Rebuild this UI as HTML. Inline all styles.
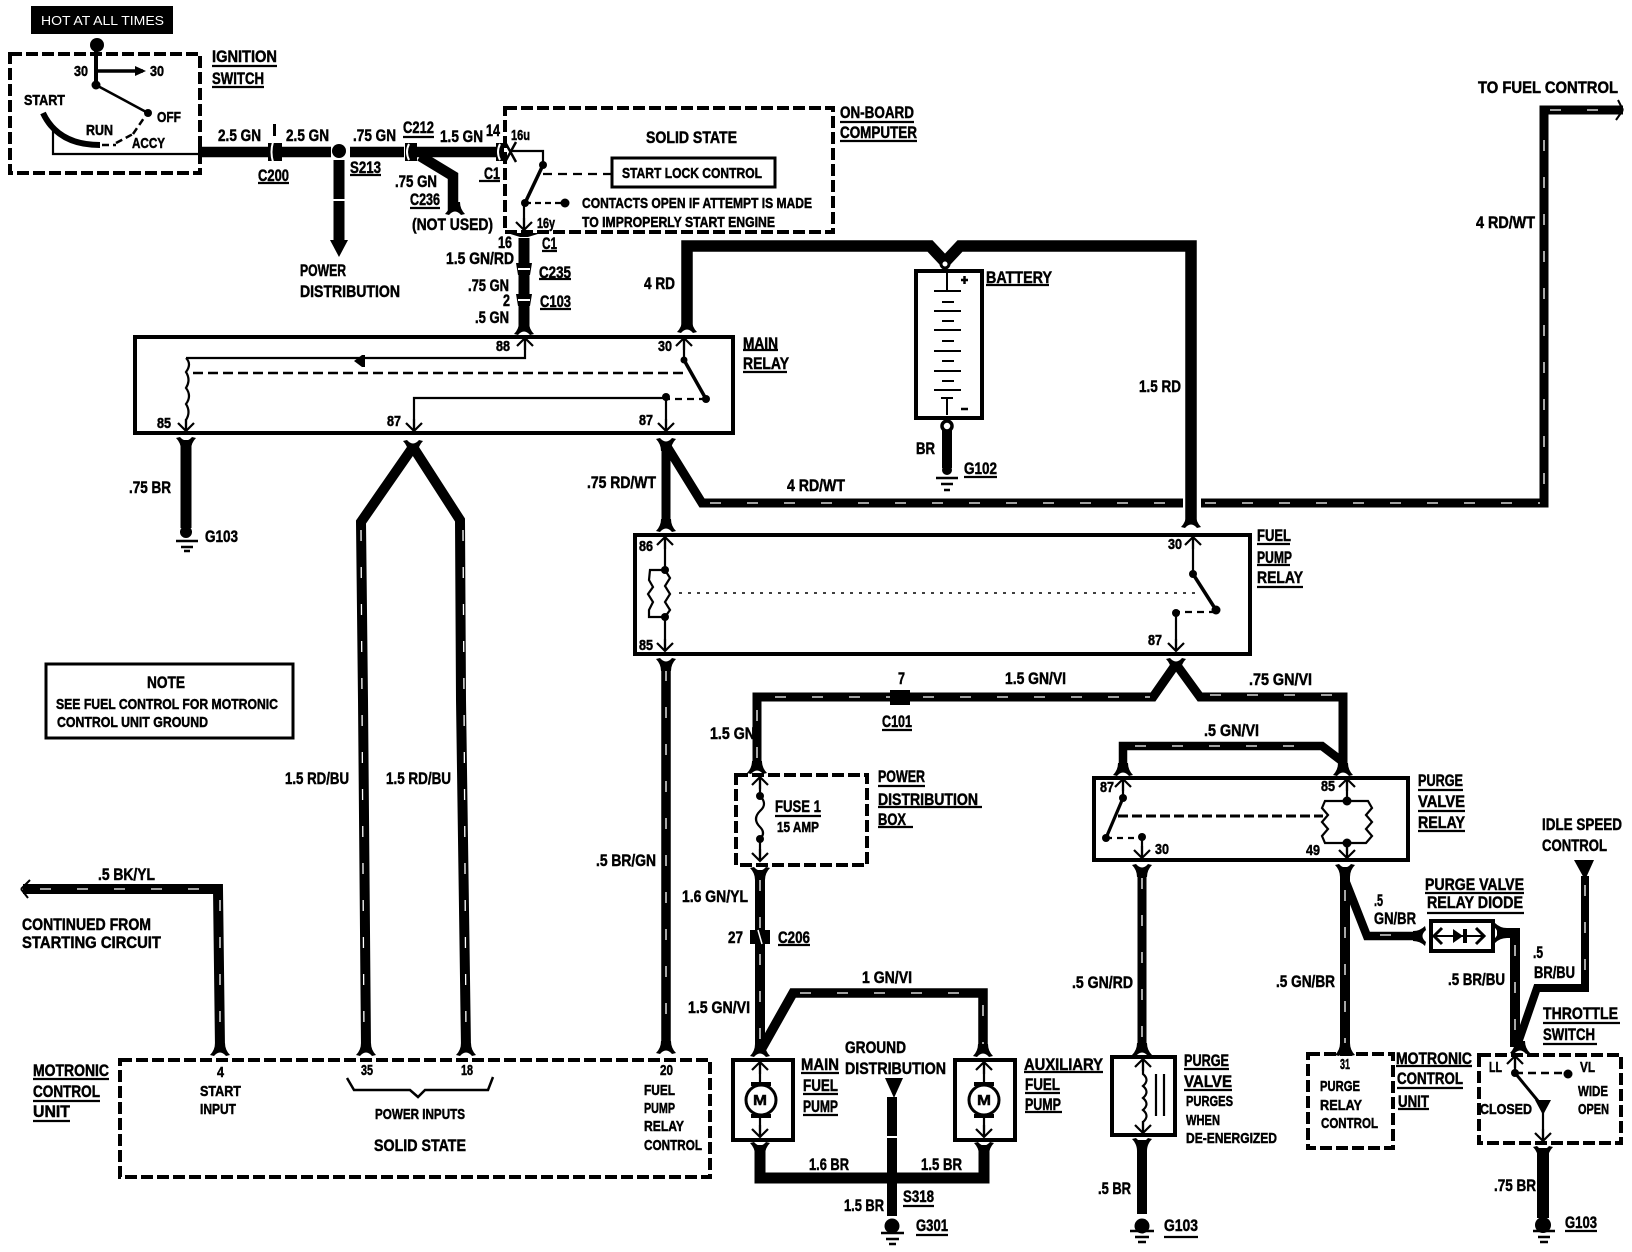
<!DOCTYPE html>
<html><head><meta charset="utf-8"><title>Fuel pump wiring diagram</title>
<style>
html,body{margin:0;padding:0;background:#fff}
svg{display:block}
text{font:bold 17px "Liberation Sans",sans-serif;fill:#000;stroke:#000;stroke-width:.5}
.s{font-size:15px}
.w{fill:#fff;stroke:none;font-weight:normal;font-size:13px}
.t{stroke:#000;fill:none;stroke-linejoin:miter}
.sl{stroke:#fff;fill:none;stroke-width:1.3;stroke-dasharray:11 26}
</style></head><body>
<svg width="1632" height="1252" viewBox="0 0 1632 1252" xmlns="http://www.w3.org/2000/svg">
<defs>
<path id="fu" d="M-10 1Q-5 -4 -5 -11L5 -11Q5 -4 10 1L6 2Q0 -5 -6 2Z"/>
<path id="pu" d="M-8 8L0 0L8 8M0 0V12" fill="none" stroke="#000" stroke-width="2.2"/>
</defs>
<rect width="1632" height="1252" fill="#fff"/>

<!-- Boxes solid -->
<g fill="none" stroke="#000" stroke-width="4">
<rect x="135" y="337" width="598" height="96"/>
<rect x="635" y="535" width="615" height="119"/>
<rect x="1094" y="778" width="314" height="82"/>
<rect x="916" y="271" width="66" height="147"/>
<rect x="733" y="1060" width="60" height="80"/>
<rect x="955" y="1060" width="60" height="80"/>
<rect x="1112" y="1057" width="63" height="78"/>
<rect x="1431" y="921" width="62" height="30"/>
<rect x="612" y="158" width="163" height="29" stroke-width="3"/>
<rect x="46" y="664" width="247" height="74" stroke-width="3"/>
</g>
<!-- Boxes dashed -->
<g fill="none" stroke="#000" stroke-width="4" stroke-dasharray="12 4">
<rect x="10" y="54" width="190" height="119"/>
<rect x="505" y="108" width="328" height="124"/>
<rect x="736" y="775" width="131" height="90"/>
<rect x="120" y="1060" width="590" height="117"/>
<rect x="1308" y="1054" width="85" height="94"/>
<rect x="1479" y="1055" width="142" height="88"/>
</g>
<rect x="31" y="6" width="142" height="28" fill="#000"/>

<!-- Thick wires -->
<g class="t">
<path d="M198 152H331M350 152H404M415 152H498" stroke-width="10.5"/>
<path d="M420 156L453 176V210" stroke-width="10.5"/>
<path d="M339 160V240" stroke-width="11"/>
<path d="M524 238V330" stroke-width="11"/>
<path d="M687 328V246H930L945 262L960 246H1191V523" stroke-width="11.5"/>
<path d="M186 440V528" stroke-width="11"/>
<path d="M947 430V468" stroke-width="10"/>
<path d="M413 447L361 522L363 700L366 1048" stroke-width="10"/>
<path d="M413 447L460 520L461 700L466 1048" stroke-width="10"/>
<path d="M666 446V527" stroke-width="9"/>
<path d="M668 448L702 503H1183M1201 503H1544V110H1623" stroke-width="9"/>
<path d="M666 662V1045" stroke-width="9.5"/>
<path d="M23 889H218L220 1048" stroke-width="10"/>
<path d="M1176 664L1153 697H757V763" stroke-width="9"/>
<path d="M1176 664L1200 697H1343V767" stroke-width="9"/>
<path d="M1123 767V746H1322L1343 762" stroke-width="8.5"/>
<path d="M760 870V1051" stroke-width="10"/>
<path d="M762 1048L793 993H983V1049" stroke-width="9.5"/>
<path d="M760 1145V1178H984V1145" stroke-width="11"/>
<path d="M892 1097V1216" stroke-width="10"/>
<path d="M1142 868V1051" stroke-width="9"/>
<path d="M1142 1140V1214" stroke-width="10"/>
<path d="M1345 867V1050" stroke-width="10"/>
<path d="M1345 880L1367 936H1422" stroke-width="8.5"/>
<path d="M1497 933H1515V1047" stroke-width="10"/>
<path d="M1585 876V988H1537L1518 1043" stroke-width="8"/>
<path d="M1543 1148V1218" stroke-width="12"/>
</g>
<!-- white twist slits -->
<g class="sl">
<path d="M361 530L364 1040M463 530L466 1040M666 670V1040M220 900V1040M1544 140V490M757 710V760M760 880V1045M1142 878V1045M1345 890V1045M1515 945V1040M1585 885V980M983 1005V1045"/>
<path d="M40 889H210M710 503H1180M1205 503H1540M775 697H1150M1210 695H1335M1135 746H1315M800 993H975M1380 935H1415M1550 110H1615"/>
</g>
<path d="M339 199V201" stroke="#fff" stroke-width="11"/>

<!-- arrowheads, dots -->
<g>
<path d="M330 240H348L339 257Z"/>
<path d="M885 1078H903L894 1098Z"/>
<path d="M1574 860H1594L1585 880Z"/>
<path d="M135 66L146 71L135 76Z"/>
<path d="M516 263H532L530 275H518ZM516 294H532L530 306H518Z"/>
<path d="M518 269H530M518 300H530" stroke="#fff" stroke-width="2"/>
<path d="M886 1137H898" stroke="#fff" stroke-width="2"/>
<use href="#fu" x="455" y="213"/>
<use href="#fu" x="524" y="333"/>
<use href="#fu" x="687" y="331"/>
<use href="#fu" x="666" y="530"/>
<use href="#fu" x="1191" y="526"/>
<use href="#fu" x="220" y="1054"/>
<use href="#fu" x="366" y="1054"/>
<use href="#fu" x="466" y="1054"/>
<use href="#fu" x="666" y="1052"/>
<use href="#fu" x="757" y="772"/>
<use href="#fu" x="1123" y="774"/>
<use href="#fu" x="1343" y="774"/>
<use href="#fu" x="760" y="1055"/>
<use href="#fu" x="983" y="1055"/>
<use href="#fu" x="1142" y="1054"/>
<use href="#fu" x="1345" y="1054"/>
<use href="#fu" x="1520" y="1052"/>
<use href="#fu" transform="rotate(180 186 439)" x="186" y="439"/>
<use href="#fu" transform="rotate(180 413 442)" x="413" y="442"/>
<use href="#fu" transform="rotate(180 666 440)" x="666" y="440"/>
<use href="#fu" transform="rotate(180 666 660)" x="666" y="660"/>
<use href="#fu" transform="rotate(180 1176 660)" x="1176" y="660"/>
<use href="#fu" transform="rotate(180 760 869)" x="760" y="869"/>
<use href="#fu" transform="rotate(180 1142 866)" x="1142" y="866"/>
<use href="#fu" transform="rotate(180 1345 866)" x="1345" y="866"/>
<use href="#fu" transform="rotate(180 760 1144)" x="760" y="1144"/>
<use href="#fu" transform="rotate(180 984 1144)" x="984" y="1144"/>
<use href="#fu" transform="rotate(180 1142 1140)" x="1142" y="1140"/>
<use href="#fu" transform="rotate(180 1543 1148)" x="1543" y="1148"/>
<use href="#fu" transform="rotate(-90 1424 936)" x="1424" y="936"/>
<use href="#fu" transform="rotate(90 1496 933)" x="1496" y="933"/>
<circle cx="97" cy="45" r="7"/><circle cx="96" cy="85" r="4.5"/><circle cx="148" cy="113" r="4"/>
<circle cx="339" cy="151" r="7"/><circle cx="186" cy="532" r="6"/><circle cx="947" cy="470" r="5"/>
<circle cx="892" cy="1226" r="7.5"/><circle cx="1142" cy="1226" r="7.5"/><circle cx="1543" cy="1225" r="8"/>
<circle cx="543" cy="165" r="4"/><circle cx="525" cy="203" r="4"/><circle cx="565" cy="203" r="4.5"/>
<circle cx="684" cy="360" r="3.5"/><circle cx="706" cy="399" r="4"/><circle cx="666" cy="397" r="4"/>
<circle cx="665" cy="570" r="4"/><circle cx="665" cy="617" r="4"/><circle cx="1193" cy="574" r="4"/><circle cx="1216" cy="610" r="4.5"/><circle cx="1176" cy="613" r="4"/>
<circle cx="760" cy="796" r="4"/><circle cx="760" cy="839" r="4"/>
<circle cx="1123" cy="798" r="4"/><circle cx="1106" cy="838" r="4"/><circle cx="1142" cy="837" r="4"/><circle cx="1347" cy="801" r="4.5"/><circle cx="1347" cy="843" r="4.5"/>
<circle cx="1515" cy="1073" r="4"/><circle cx="1568" cy="1074" r="4.5"/>
<path d="M1535 1100H1551L1543 1115Z"/>
</g>

<!-- Connectors -->
<g>
<path d="M268 143H282V161H268Z"/><path d="M273 142Q270 152 273 162" stroke="#fff" stroke-width="2" fill="none"/>
<rect x="273" y="124" width="3" height="12"/>
<path d="M405 143H417V161H405Z"/><path d="M409 144Q405 152 409 160" stroke="#fff" stroke-width="2" fill="none"/>
<path d="M496 143H504V161H496Z"/><path d="M500 144Q496 152 500 160" stroke="#fff" stroke-width="2" fill="none"/>
<path d="M505 142L516 162M516 142L505 162" stroke="#000" stroke-width="2.5"/>
<path d="M520 237L507 233H541L528 237Z"/>
<path d="M890 690H910V705H890Z"/>
<path d="M750 930H770V944H750Z"/>
<path d="M758 930L762 944" stroke="#fff" stroke-width="1.5"/>
<circle cx="945" cy="264" r="4" fill="#fff" stroke="#000" stroke-width="3"/>
<circle cx="947" cy="426" r="5" fill="#fff" stroke="#000" stroke-width="3.5"/>
</g>

<!-- Thin circuit lines -->
<g fill="none" stroke="#000" stroke-width="2.2">
<path d="M96 45V85" stroke-width="4"/>
<path d="M96 71H143" stroke-width="3.5"/>
<path d="M96 85L148 113" stroke-width="2.5"/>
<path d="M43 113Q58 145 100 145" stroke-width="6"/>
<path d="M102 145H116M116 143L133 134M133 134L146 115" stroke-dasharray="7 4" stroke-width="2.5"/>
<path d="M53 130V154H198"/>
<path d="M510 151H543V165"/>
<path d="M543 165L525 203" stroke-width="3.5"/>
<path d="M525 203H565" stroke-dasharray="6 4"/>
<path d="M543 174H611" stroke-dasharray="9 6"/>
<path d="M524 203V228"/>
<path d="M525 338V358H186"/>
<path d="M186 358Q192 364 186 372Q191 380 186 388Q192 396 186 404Q191 412 186 420V431"/>
<path d="M193 373H685" stroke-dasharray="10 5" stroke-width="2.6"/>
<path d="M684 338V360"/>
<path d="M684 360L706 399" stroke-width="3.5"/>
<path d="M706 399H668" stroke-dasharray="7 5"/>
<path d="M666 397V430"/>
<path d="M666 398H414V430"/>
<path d="M665 537V570M665 617V650"/>
<path d="M665 570H650L649 580L653 587L648 594L653 602L649 610V617H665"/>
<path d="M665 570L670 578L665 586L670 594L665 602L670 610L665 617"/>
<path d="M679 593H1201" stroke-dasharray="3 6" stroke-width="1.5"/>
<path d="M1193 537V574"/>
<path d="M1193 574L1216 610" stroke-width="3.5"/>
<path d="M1216 612H1178" stroke-dasharray="7 5"/>
<path d="M1176 613V650"/>
<path d="M760 776V796M760 839V860"/>
<path d="M760 796Q768 804 760 811Q752 819 760 827Q766 833 760 839"/>
<path d="M1123 778V798"/>
<path d="M1123 798L1106 838" stroke-width="3.2"/>
<path d="M1106 838H1142" stroke-dasharray="6 5"/>
<path d="M1142 837V858"/>
<path d="M1118 816H1323" stroke-dasharray="10 4" stroke-width="3"/>
<path d="M1347 778V801M1347 843V858"/>
<path d="M1325 801H1368L1372 808L1366 815L1372 822L1366 829L1372 836L1366 843H1325L1322 836L1328 829L1322 822L1328 815L1322 808Z"/>
<path d="M1515 1055V1073"/>
<path d="M1515 1073H1568" stroke-dasharray="8 5" stroke-width="2.6"/>
<path d="M1515 1073L1543 1107" stroke-width="3"/>
<path d="M1543 1107V1140"/>
<path d="M760 1061V1085M760 1115V1137M984 1061V1085M984 1115V1137"/>
<circle cx="761" cy="1100" r="15" stroke-width="3"/><circle cx="984" cy="1100" r="15" stroke-width="3"/>
<path d="M1143 1058V1074Q1150 1080 1143 1086Q1150 1092 1143 1098Q1150 1104 1143 1110Q1150 1116 1143 1122V1132"/>
<path d="M1156 1074V1116M1164 1074V1116"/>
<path d="M1436 936H1484" stroke-width="2"/>
<path d="M347 1078L354 1090H410L418 1097L425 1090H488L493 1077" stroke-width="2.5"/>
<!-- battery plates -->
<path d="M947 270V291M934 291H961M942 302H954M934 311H961M942 321H954M934 330H961M942 341H954M934 351H961M942 361H954M934 371H961M942 381H954M934 390H961M941 398H953M947 398V415" stroke-width="2"/>
<path d="M961 280H968M964.500 276V284M961 409H968" stroke-width="2.500"/>
</g>
<use href="#pu" x="525" y="338"/><use href="#pu" x="684" y="338"/>
<use href="#pu" x="665" y="537"/><use href="#pu" x="1193" y="537"/>
<use href="#pu" x="760" y="777"/><use href="#pu" x="1123" y="779"/><use href="#pu" x="1347" y="779"/>
<use href="#pu" x="1515" y="1056"/><use href="#pu" x="760" y="1062"/><use href="#pu" x="984" y="1062"/><use href="#pu" x="1143" y="1059"/>
<g>
<use href="#pu" transform="rotate(180 186 431)" x="186" y="431"/>
<use href="#pu" transform="rotate(180 414 431)" x="414" y="431"/>
<use href="#pu" transform="rotate(180 666 431)" x="666" y="431"/>
<use href="#pu" transform="rotate(180 665 651)" x="665" y="651"/>
<use href="#pu" transform="rotate(180 1176 651)" x="1176" y="651"/>
<use href="#pu" transform="rotate(180 760 861)" x="760" y="861"/>
<use href="#pu" transform="rotate(180 1142 858)" x="1142" y="858"/>
<use href="#pu" transform="rotate(180 1347 858)" x="1347" y="858"/>
<use href="#pu" transform="rotate(180 1543 1141)" x="1543" y="1141"/>
<use href="#pu" transform="rotate(180 760 1137)" x="760" y="1137"/>
<use href="#pu" transform="rotate(180 984 1137)" x="984" y="1137"/>
<use href="#pu" transform="rotate(180 1143 1133)" x="1143" y="1133"/>
<use href="#pu" transform="rotate(180 524 230)" x="524" y="230"/>
</g>
<!-- motors, diode, misc -->
<g>
<rect x="751" y="1082" width="20" height="4"/><rect x="751" y="1114" width="20" height="4"/>
<rect x="974" y="1082" width="20" height="4"/><rect x="974" y="1114" width="20" height="4"/>
<path d="M354 361L362 355V367ZM362 355H365V367H362Z"/>
<path d="M1453 929L1463 936L1453 943ZM1463 929H1467V943H1463Z"/>
<path d="M1442 928L1434 936L1442 944M1476 928L1484 936L1476 944" fill="none" stroke="#000" stroke-width="3"/>
<path d="M21 889L30 880M21 889L28 898M1623 110L1618 100M1623 110L1616 120" fill="none" stroke="#000" stroke-width="2"/>
<path d="M176 541H198M181 547H193M184 551H190M936 478H958M941 484H953M944 490H950M881 1233H904M886 1239H899M889 1244H896M1130 1231H1154M1135 1237H1149M1138 1242H1146M1533 1231H1555M1538 1237H1550M1540 1242H1548" stroke="#000" stroke-width="2.4" fill="none"/>
<!-- underlines -->
<path fill="none" stroke="#000" stroke-width="2.2" d="M212 66H277M212 87H264M258 183H289M350 175H381M403 137H434M410 208H440M479 181H500M840 122H914M840 141H917M542 251H557M539 279H571M540 309H571M743 350H778M743 372H787M986 285H1049M964 477H997M1257 544H1290M1257 565H1290M1257 587H1303M882 730H912M878 786H925M878 807H982M878 827H913M775 816H821M778 945H810M801 1073H839M803 1094H838M803 1115H838M1024 1072H1103M1025 1093H1060M1025 1112H1062M1184 1069H1229M1184 1090H1232M903 1206H934M916 1235H948M1164 1237H1198M1418 790H1463M1418 811H1465M1418 831H1465M1425 893H1524M1427 913H1524M1543 1023H1620M1543 1044H1597M1396 1066H1472M1397 1088H1463M1398 1109H1429M1565 1231H1597M33 1079H109M33 1101H100M33 1121H70"/>
</g>

<!-- Text -->
<g>
<text class="w" x="41" y="25" textLength="123" lengthAdjust="spacingAndGlyphs">HOT AT ALL TIMES</text>
<text x="212" y="62" textLength="65" lengthAdjust="spacingAndGlyphs">IGNITION</text>
<text x="212" y="84" textLength="52" lengthAdjust="spacingAndGlyphs">SWITCH</text>
<text class="s" x="74" y="76" textLength="14" lengthAdjust="spacingAndGlyphs">30</text>
<text class="s" x="150" y="76" textLength="14" lengthAdjust="spacingAndGlyphs">30</text>
<text class="s" x="24" y="105" textLength="41" lengthAdjust="spacingAndGlyphs">START</text>
<text class="s" x="157" y="122" textLength="24" lengthAdjust="spacingAndGlyphs">OFF</text>
<text class="s" x="86" y="135" textLength="27" lengthAdjust="spacingAndGlyphs">RUN</text>
<text class="s" x="132" y="148" textLength="33" lengthAdjust="spacingAndGlyphs">ACCY</text>
<text x="218" y="141" textLength="43" lengthAdjust="spacingAndGlyphs">2.5 GN</text>
<text x="286" y="141" textLength="43" lengthAdjust="spacingAndGlyphs">2.5 GN</text>
<text x="353" y="141" textLength="43" lengthAdjust="spacingAndGlyphs">.75 GN</text>
<text x="403" y="133" textLength="31" lengthAdjust="spacingAndGlyphs">C212</text>
<text x="440" y="142" textLength="43" lengthAdjust="spacingAndGlyphs">1.5 GN</text>
<text x="486" y="136" textLength="14" lengthAdjust="spacingAndGlyphs">14</text>
<text class="s" x="511" y="140" textLength="19" lengthAdjust="spacingAndGlyphs">16u</text>
<text x="258" y="181" textLength="31" lengthAdjust="spacingAndGlyphs">C200</text>
<text x="350" y="173" textLength="31" lengthAdjust="spacingAndGlyphs">S213</text>
<text x="395" y="187" textLength="42" lengthAdjust="spacingAndGlyphs">.75 GN</text>
<text x="410" y="205" textLength="30" lengthAdjust="spacingAndGlyphs">C236</text>
<text x="412" y="230" textLength="81" lengthAdjust="spacingAndGlyphs">(NOT USED)</text>
<text x="484" y="179" textLength="16" lengthAdjust="spacingAndGlyphs">C1</text>
<text x="300" y="276" textLength="46" lengthAdjust="spacingAndGlyphs">POWER</text>
<text x="300" y="297" textLength="100" lengthAdjust="spacingAndGlyphs">DISTRIBUTION</text>
<text x="646" y="143" textLength="91" lengthAdjust="spacingAndGlyphs">SOLID STATE</text>
<text class="s" x="622" y="178" textLength="140" lengthAdjust="spacingAndGlyphs">START LOCK CONTROL</text>
<text class="s" x="582" y="208" textLength="230" lengthAdjust="spacingAndGlyphs">CONTACTS OPEN IF ATTEMPT IS MADE</text>
<text class="s" x="582" y="227" textLength="193" lengthAdjust="spacingAndGlyphs">TO IMPROPERLY START ENGINE</text>
<text x="840" y="118" textLength="74" lengthAdjust="spacingAndGlyphs">ON-BOARD</text>
<text x="840" y="138" textLength="77" lengthAdjust="spacingAndGlyphs">COMPUTER</text>
<text class="s" x="537" y="228" textLength="18" lengthAdjust="spacingAndGlyphs">16y</text>
<text x="498" y="248" textLength="14" lengthAdjust="spacingAndGlyphs">16</text>
<text x="542" y="249" textLength="15" lengthAdjust="spacingAndGlyphs">C1</text>
<text x="446" y="264" textLength="68" lengthAdjust="spacingAndGlyphs">1.5 GN/RD</text>
<text x="539" y="278" textLength="32" lengthAdjust="spacingAndGlyphs">C235</text>
<text x="468" y="291" textLength="41" lengthAdjust="spacingAndGlyphs">.75 GN</text>
<text x="503" y="306" textLength="7" lengthAdjust="spacingAndGlyphs">2</text>
<text x="540" y="307" textLength="31" lengthAdjust="spacingAndGlyphs">C103</text>
<text x="475" y="323" textLength="34" lengthAdjust="spacingAndGlyphs">.5 GN</text>
<text x="644" y="289" textLength="31" lengthAdjust="spacingAndGlyphs">4 RD</text>
<text class="s" x="496" y="351" textLength="14" lengthAdjust="spacingAndGlyphs">88</text>
<text class="s" x="658" y="351" textLength="14" lengthAdjust="spacingAndGlyphs">30</text>
<text class="s" x="157" y="428" textLength="14" lengthAdjust="spacingAndGlyphs">85</text>
<text class="s" x="387" y="426" textLength="14" lengthAdjust="spacingAndGlyphs">87</text>
<text class="s" x="639" y="425" textLength="14" lengthAdjust="spacingAndGlyphs">87</text>
<text x="743" y="349" textLength="35" lengthAdjust="spacingAndGlyphs">MAIN</text>
<text x="743" y="369" textLength="46" lengthAdjust="spacingAndGlyphs">RELAY</text>
<text x="986" y="283" textLength="66" lengthAdjust="spacingAndGlyphs">BATTERY</text>
<text x="916" y="454" textLength="19" lengthAdjust="spacingAndGlyphs">BR</text>
<text x="964" y="474" textLength="33" lengthAdjust="spacingAndGlyphs">G102</text>
<text x="1139" y="392" textLength="42" lengthAdjust="spacingAndGlyphs">1.5 RD</text>
<text x="1476" y="228" textLength="59" lengthAdjust="spacingAndGlyphs">4 RD/WT</text>
<text x="1478" y="93" textLength="140" lengthAdjust="spacingAndGlyphs">TO FUEL CONTROL</text>
<text x="787" y="491" textLength="58" lengthAdjust="spacingAndGlyphs">4 RD/WT</text>
<text x="587" y="488" textLength="69" lengthAdjust="spacingAndGlyphs">.75 RD/WT</text>
<text x="129" y="493" textLength="42" lengthAdjust="spacingAndGlyphs">.75 BR</text>
<text x="205" y="542" textLength="33" lengthAdjust="spacingAndGlyphs">G103</text>
<text x="1257" y="541" textLength="34" lengthAdjust="spacingAndGlyphs">FUEL</text>
<text x="1257" y="563" textLength="35" lengthAdjust="spacingAndGlyphs">PUMP</text>
<text x="1257" y="583" textLength="46" lengthAdjust="spacingAndGlyphs">RELAY</text>
<text class="s" x="639" y="551" textLength="14" lengthAdjust="spacingAndGlyphs">86</text>
<text class="s" x="639" y="650" textLength="14" lengthAdjust="spacingAndGlyphs">85</text>
<text class="s" x="1168" y="549" textLength="14" lengthAdjust="spacingAndGlyphs">30</text>
<text class="s" x="1148" y="645" textLength="14" lengthAdjust="spacingAndGlyphs">87</text>
<text x="147" y="688" textLength="38" lengthAdjust="spacingAndGlyphs">NOTE</text>
<text class="s" x="56" y="709" textLength="222" lengthAdjust="spacingAndGlyphs">SEE FUEL CONTROL FOR MOTRONIC</text>
<text class="s" x="57" y="727" textLength="151" lengthAdjust="spacingAndGlyphs">CONTROL UNIT GROUND</text>
<text x="285" y="784" textLength="64" lengthAdjust="spacingAndGlyphs">1.5 RD/BU</text>
<text x="386" y="784" textLength="65" lengthAdjust="spacingAndGlyphs">1.5 RD/BU</text>
<text x="596" y="866" textLength="60" lengthAdjust="spacingAndGlyphs">.5 BR/GN</text>
<text x="98" y="880" textLength="57" lengthAdjust="spacingAndGlyphs">.5 BK/YL</text>
<text x="22" y="930" textLength="129" lengthAdjust="spacingAndGlyphs">CONTINUED FROM</text>
<text x="22" y="948" textLength="139" lengthAdjust="spacingAndGlyphs">STARTING CIRCUIT</text>
<text x="898" y="684" textLength="7" lengthAdjust="spacingAndGlyphs">7</text>
<text x="882" y="727" textLength="30" lengthAdjust="spacingAndGlyphs">C101</text>
<text x="1005" y="684" textLength="61" lengthAdjust="spacingAndGlyphs">1.5 GN/VI</text>
<text x="1249" y="685" textLength="63" lengthAdjust="spacingAndGlyphs">.75 GN/VI</text>
<text x="1204" y="736" textLength="55" lengthAdjust="spacingAndGlyphs">.5 GN/VI</text>
<text x="710" y="739" textLength="45" lengthAdjust="spacingAndGlyphs">1.5 GN</text>
<text x="878" y="782" textLength="47" lengthAdjust="spacingAndGlyphs">POWER</text>
<text x="878" y="805" textLength="100" lengthAdjust="spacingAndGlyphs">DISTRIBUTION</text>
<text x="878" y="825" textLength="28" lengthAdjust="spacingAndGlyphs">BOX</text>
<text x="775" y="812" textLength="46" lengthAdjust="spacingAndGlyphs">FUSE 1</text>
<text class="s" x="777" y="832" textLength="42" lengthAdjust="spacingAndGlyphs">15 AMP</text>
<text class="s" x="1100" y="792" textLength="14" lengthAdjust="spacingAndGlyphs">87</text>
<text class="s" x="1321" y="791" textLength="14" lengthAdjust="spacingAndGlyphs">85</text>
<text class="s" x="1155" y="854" textLength="14" lengthAdjust="spacingAndGlyphs">30</text>
<text class="s" x="1306" y="855" textLength="14" lengthAdjust="spacingAndGlyphs">49</text>
<text x="1418" y="786" textLength="45" lengthAdjust="spacingAndGlyphs">PURGE</text>
<text x="1418" y="807" textLength="47" lengthAdjust="spacingAndGlyphs">VALVE</text>
<text x="1418" y="828" textLength="47" lengthAdjust="spacingAndGlyphs">RELAY</text>
<text x="682" y="902" textLength="66" lengthAdjust="spacingAndGlyphs">1.6 GN/YL</text>
<text x="728" y="943" textLength="15" lengthAdjust="spacingAndGlyphs">27</text>
<text x="778" y="943" textLength="32" lengthAdjust="spacingAndGlyphs">C206</text>
<text x="688" y="1013" textLength="62" lengthAdjust="spacingAndGlyphs">1.5 GN/VI</text>
<text x="862" y="983" textLength="50" lengthAdjust="spacingAndGlyphs">1 GN/VI</text>
<text x="1072" y="988" textLength="61" lengthAdjust="spacingAndGlyphs">.5 GN/RD</text>
<text x="1276" y="987" textLength="59" lengthAdjust="spacingAndGlyphs">.5 GN/BR</text>
<text x="1425" y="890" textLength="99" lengthAdjust="spacingAndGlyphs">PURGE VALVE</text>
<text x="1427" y="908" textLength="96" lengthAdjust="spacingAndGlyphs">RELAY DIODE</text>
<text x="1374" y="906" textLength="9" lengthAdjust="spacingAndGlyphs">.5</text>
<text x="1374" y="924" textLength="42" lengthAdjust="spacingAndGlyphs">GN/BR</text>
<text x="1533" y="958" textLength="10" lengthAdjust="spacingAndGlyphs">.5</text>
<text x="1534" y="978" textLength="41" lengthAdjust="spacingAndGlyphs">BR/BU</text>
<text x="1448" y="985" textLength="57" lengthAdjust="spacingAndGlyphs">.5 BR/BU</text>
<text x="1542" y="830" textLength="80" lengthAdjust="spacingAndGlyphs">IDLE SPEED</text>
<text x="1542" y="851" textLength="65" lengthAdjust="spacingAndGlyphs">CONTROL</text>
<text x="1543" y="1019" textLength="75" lengthAdjust="spacingAndGlyphs">THROTTLE</text>
<text x="1543" y="1040" textLength="52" lengthAdjust="spacingAndGlyphs">SWITCH</text>
<text x="845" y="1053" textLength="61" lengthAdjust="spacingAndGlyphs">GROUND</text>
<text x="845" y="1074" textLength="101" lengthAdjust="spacingAndGlyphs">DISTRIBUTION</text>
<text x="801" y="1070" textLength="38" lengthAdjust="spacingAndGlyphs">MAIN</text>
<text x="803" y="1091" textLength="35" lengthAdjust="spacingAndGlyphs">FUEL</text>
<text x="803" y="1112" textLength="35" lengthAdjust="spacingAndGlyphs">PUMP</text>
<text x="1024" y="1070" textLength="79" lengthAdjust="spacingAndGlyphs">AUXILIARY</text>
<text x="1025" y="1090" textLength="35" lengthAdjust="spacingAndGlyphs">FUEL</text>
<text x="1025" y="1110" textLength="36" lengthAdjust="spacingAndGlyphs">PUMP</text>
<text x="1184" y="1066" textLength="45" lengthAdjust="spacingAndGlyphs">PURGE</text>
<text x="1184" y="1087" textLength="48" lengthAdjust="spacingAndGlyphs">VALVE</text>
<text class="s" x="1186" y="1106" textLength="47" lengthAdjust="spacingAndGlyphs">PURGES</text>
<text class="s" x="1186" y="1125" textLength="34" lengthAdjust="spacingAndGlyphs">WHEN</text>
<text class="s" x="1186" y="1143" textLength="91" lengthAdjust="spacingAndGlyphs">DE-ENERGIZED</text>
<text class="s" x="1340" y="1069" textLength="10" lengthAdjust="spacingAndGlyphs">31</text>
<text class="s" x="1320" y="1091" textLength="40" lengthAdjust="spacingAndGlyphs">PURGE</text>
<text class="s" x="1320" y="1110" textLength="42" lengthAdjust="spacingAndGlyphs">RELAY</text>
<text class="s" x="1321" y="1128" textLength="57" lengthAdjust="spacingAndGlyphs">CONTROL</text>
<text x="1396" y="1064" textLength="76" lengthAdjust="spacingAndGlyphs">MOTRONIC</text>
<text x="1397" y="1084" textLength="66" lengthAdjust="spacingAndGlyphs">CONTROL</text>
<text x="1398" y="1107" textLength="31" lengthAdjust="spacingAndGlyphs">UNIT</text>
<text class="s" x="1489" y="1072" textLength="13" lengthAdjust="spacingAndGlyphs">LL</text>
<text class="s" x="1580" y="1072" textLength="15" lengthAdjust="spacingAndGlyphs">VL</text>
<text class="s" x="1578" y="1096" textLength="30" lengthAdjust="spacingAndGlyphs">WIDE</text>
<text class="s" x="1578" y="1114" textLength="31" lengthAdjust="spacingAndGlyphs">OPEN</text>
<text class="s" x="1480" y="1114" textLength="52" lengthAdjust="spacingAndGlyphs">CLOSED</text>
<text x="33" y="1076" textLength="76" lengthAdjust="spacingAndGlyphs">MOTRONIC</text>
<text x="33" y="1097" textLength="67" lengthAdjust="spacingAndGlyphs">CONTROL</text>
<text x="33" y="1117" textLength="37" lengthAdjust="spacingAndGlyphs">UNIT</text>
<text class="s" x="217" y="1077" textLength="7" lengthAdjust="spacingAndGlyphs">4</text>
<text class="s" x="361" y="1075" textLength="12" lengthAdjust="spacingAndGlyphs">35</text>
<text class="s" x="461" y="1075" textLength="12" lengthAdjust="spacingAndGlyphs">18</text>
<text class="s" x="660" y="1075" textLength="13" lengthAdjust="spacingAndGlyphs">20</text>
<text class="s" x="200" y="1096" textLength="41" lengthAdjust="spacingAndGlyphs">START</text>
<text class="s" x="200" y="1114" textLength="36" lengthAdjust="spacingAndGlyphs">INPUT</text>
<text class="s" x="375" y="1119" textLength="90" lengthAdjust="spacingAndGlyphs">POWER INPUTS</text>
<text x="374" y="1151" textLength="92" lengthAdjust="spacingAndGlyphs">SOLID STATE</text>
<text class="s" x="644" y="1095" textLength="31" lengthAdjust="spacingAndGlyphs">FUEL</text>
<text class="s" x="644" y="1113" textLength="31" lengthAdjust="spacingAndGlyphs">PUMP</text>
<text class="s" x="644" y="1131" textLength="40" lengthAdjust="spacingAndGlyphs">RELAY</text>
<text class="s" x="644" y="1150" textLength="58" lengthAdjust="spacingAndGlyphs">CONTROL</text>
<text x="809" y="1170" textLength="40" lengthAdjust="spacingAndGlyphs">1.6 BR</text>
<text x="921" y="1170" textLength="41" lengthAdjust="spacingAndGlyphs">1.5 BR</text>
<text x="844" y="1211" textLength="40" lengthAdjust="spacingAndGlyphs">1.5 BR</text>
<text x="903" y="1202" textLength="31" lengthAdjust="spacingAndGlyphs">S318</text>
<text x="916" y="1231" textLength="32" lengthAdjust="spacingAndGlyphs">G301</text>
<text x="1098" y="1194" textLength="33" lengthAdjust="spacingAndGlyphs">.5 BR</text>
<text x="1164" y="1231" textLength="34" lengthAdjust="spacingAndGlyphs">G103</text>
<text x="1494" y="1191" textLength="42" lengthAdjust="spacingAndGlyphs">.75 BR</text>
<text x="1565" y="1228" textLength="32" lengthAdjust="spacingAndGlyphs">G103</text>
<text class="s" x="753" y="1105" textLength="14" lengthAdjust="spacingAndGlyphs">M</text>
<text class="s" x="977" y="1105" textLength="14" lengthAdjust="spacingAndGlyphs">M</text>
</g>
</svg>
</body></html>
